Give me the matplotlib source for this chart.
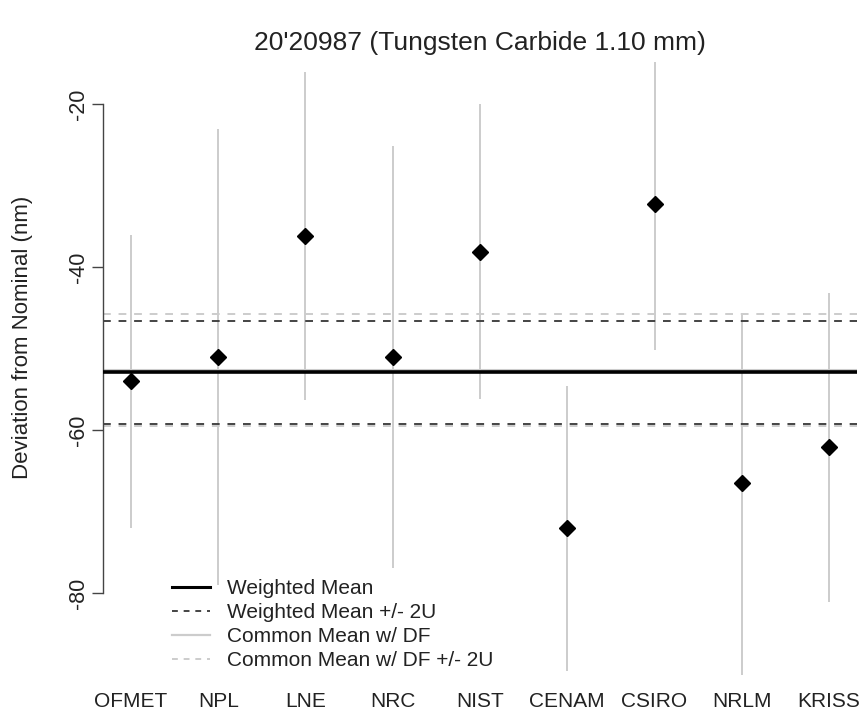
import matplotlib
matplotlib.use('Agg')

import matplotlib.pyplot as plt
import numpy as np
from matplotlib.lines import Line2D

# ---- data ----
labs = ['OFMET', 'NPL', 'LNE', 'NRC', 'NIST', 'CENAM', 'CSIRO', 'NRLM', 'KRISS']
dev = [-54.0, -51.0, -36.2, -51.0, -38.1, -72.0, -32.2, -66.5, -62.0]
lo = [-72.0, -79.0, -56.3, -76.9, -56.2, -89.5, -50.2, -90.5, -81.0]
hi = [-36.1, -23.1, -16.1, -25.1, -20.0, -54.5, -14.8, -45.8, -43.1]

w_mean = -52.85
w_band = [-46.55, -59.25]
c_mean = -52.6
c_band = [-45.7, -59.5]

yticks = [-80, -60, -40, -20]

plt.rcParams['font.family'] = ['Liberation Sans', 'DejaVu Sans']

W, H = 863, 726
fig = plt.figure(figsize=(W / 100, H / 100), dpi=100)
ax = fig.add_axes([103 / W, (H - 675) / H, (857 - 103) / W, (675 - 61) / H])

x = np.arange(1, len(labs) + 1)

# uncertainty bars
ax.vlines(x, lo, hi, color='#c8c8c8', linewidth=1.3, zorder=1)

# common mean lines (light grey)
ax.axhline(c_mean, color='#cccccc', linewidth=2.2, zorder=2)
for v in c_band:
    ax.axhline(v, color='#cccccc', linewidth=1.4, linestyle=(0, (4, 4)), zorder=2)

# weighted mean lines
ax.axhline(w_mean, color='black', linewidth=2.6, zorder=3)
for v in w_band:
    ax.axhline(v, color='#444444', linewidth=1.4, linestyle=(0, (4, 4)), zorder=3)

ax.plot(x, dev, linestyle='none', marker='D', markersize=8.5, color='black', zorder=4)

ax.set_xlim(0.68, 9.32)
ax.set_ylim(-90.0, -14.7)

for s in ['top', 'right', 'bottom']:
    ax.spines[s].set_visible(False)
ax.spines['left'].set_bounds(-80, -20)
ax.spines['left'].set_color('#444444')
ax.spines['left'].set_linewidth(1.0)

ax.set_yticks(yticks)
ax.set_yticklabels([str(v) for v in yticks], rotation=90, va='center')
ax.tick_params(axis='y', length=8, width=1.0, color='#444444', labelsize=15.5, pad=2, labelcolor='#222222')

ax.set_xticks(x)
ax.set_xticklabels(labs)
ax.tick_params(axis='x', length=0, labelsize=15, pad=12, labelcolor='#222222')

ax.set_ylabel('Deviation from Nominal (nm)', fontsize=16, color='#222222')
ax.yaxis.set_label_coords(-70 / 754, (675 - 337) / 614)
ax.set_title("20'20987 (Tungsten Carbide 1.10 mm)", fontsize=19, color='#222222', pad=8)

handles = [
    Line2D([], [], color='black', linewidth=2.2),
    Line2D([], [], color='#444444', linewidth=1.4, linestyle=(0, (3, 3))),
    Line2D([], [], color='#cccccc', linewidth=1.6),
    Line2D([], [], color='#cccccc', linewidth=1.4, linestyle=(0, (3, 3))),
]
names = ['Weighted Mean', 'Weighted Mean +/- 2U', 'Common Mean w/ DF', 'Common Mean w/ DF +/- 2U']
leg = ax.legend(handles, names, loc='lower left', bbox_to_anchor=(0.075, -0.012),
                frameon=False, fontsize=15, handlelength=1.8, handletextpad=0.85,
                labelspacing=0.23, borderaxespad=0.2)
for t in leg.get_texts():
    t.set_color('#222222')

fig.savefig('out.png', dpi=100)
